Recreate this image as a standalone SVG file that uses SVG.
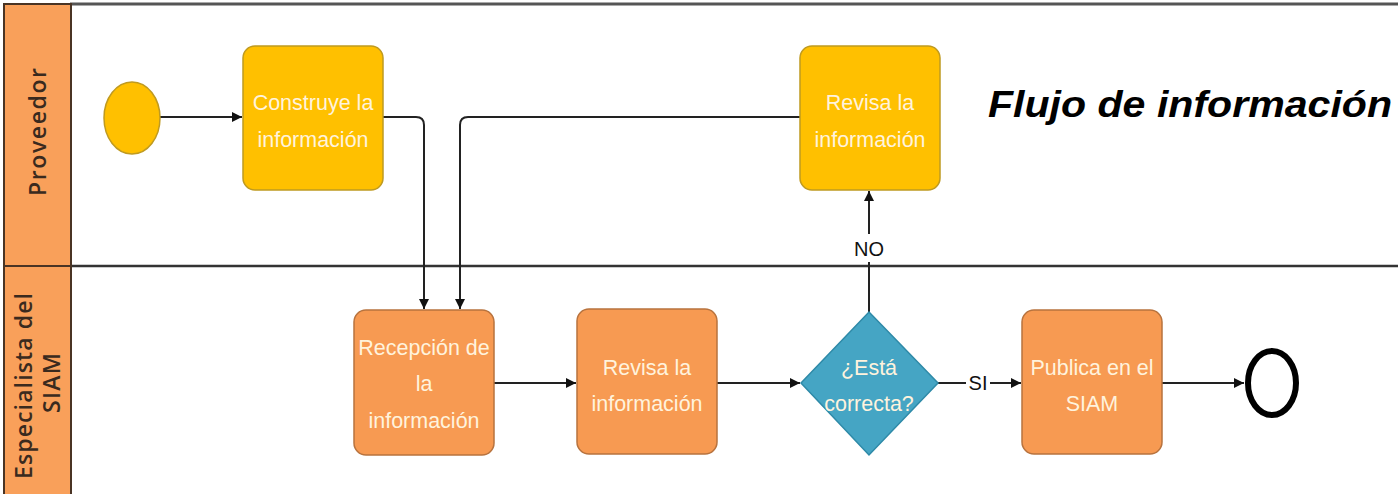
<svg xmlns="http://www.w3.org/2000/svg" width="1398" height="494" viewBox="0 0 1398 494">
<style>
.lane{fill:#F9A05A;stroke:#4A3424;stroke-width:2}
.lanetxt{font-family:"Open Sans","DejaVu Sans",sans-serif;font-size:23px;font-weight:600;fill:#3A2A1E;text-anchor:middle}
.y{fill:#FFC000;stroke:#BF9A20;stroke-width:1.5}
.o{fill:#F79A52;stroke:#B8733E;stroke-width:1.5}
.d{fill:#45A5C4;stroke:#2E8AA8;stroke-width:1.5}
.bt{font-family:"Liberation Sans",sans-serif;font-size:21.5px;fill:#FFF3DD;text-anchor:middle}
.c{fill:none;stroke:#222;stroke-width:2}
.lbl{font-family:"Liberation Sans",sans-serif;font-size:20px;fill:#111;text-anchor:middle}
</style>
<defs>
<marker id="ah" viewBox="0 0 10 10" refX="10" refY="5" markerWidth="5" markerHeight="5" orient="auto" markerUnits="strokeWidth">
<path d="M0,0 L10,5 L0,10 z" fill="#111"/>
</marker>
</defs>
<rect x="0" y="0" width="1398" height="494" fill="#fff"/>
<g id="pool">
<line x1="70" y1="4" x2="1398" y2="4" stroke="#555" stroke-width="3"/>
<line x1="4" y1="266" x2="1398" y2="266" stroke="#333" stroke-width="2.5"/>
<rect class="lane" x="4" y="4" width="67" height="262"/>
<rect class="lane" x="4" y="266" width="67" height="232"/>
<text class="lanetxt" transform="translate(46,132) rotate(-90)" textLength="128" lengthAdjust="spacing">Proveedor</text>
<text class="lanetxt" transform="translate(32,386) rotate(-90)" textLength="186" lengthAdjust="spacing">Especialista del</text>
<text class="lanetxt" transform="translate(60,383) rotate(-90)" textLength="60" lengthAdjust="spacing">SIAM</text>
</g>
<g id="connectors">
<line class="c" x1="160" y1="117" x2="242" y2="117" marker-end="url(#ah)"/>
<path class="c" d="M383,117 H416 Q424,117 424,125 V309" marker-end="url(#ah)"/>
<path class="c" d="M800,117 H468 Q460,117 460,125 V309" marker-end="url(#ah)"/>
<line class="c" x1="494" y1="383" x2="576" y2="383" marker-end="url(#ah)"/>
<line class="c" x1="717" y1="383" x2="800" y2="383" marker-end="url(#ah)"/>
<line class="c" x1="869" y1="312" x2="869" y2="191" marker-end="url(#ah)"/>
<rect x="851" y="234" width="36" height="28" fill="#fff"/>
<text class="lbl" x="869" y="256">NO</text>
<line class="c" x1="938" y1="383" x2="1021" y2="383" marker-end="url(#ah)"/>
<rect x="966" y="370" width="24" height="26" fill="#fff"/>
<text class="lbl" x="978" y="390">SI</text>
<line class="c" x1="1162" y1="383" x2="1244" y2="383" marker-end="url(#ah)"/>
</g>
<g id="start"><ellipse class="y" cx="132" cy="118" rx="28" ry="36"/></g>
<g id="construye">
<rect class="y" x="243" y="46" width="140" height="144" rx="12"/>
<text class="bt" x="313" y="110">Construye la</text>
<text class="bt" x="313" y="147">información</text>
</g>
<g id="revisa-proveedor">
<rect class="y" x="800" y="46" width="140" height="144" rx="12"/>
<text class="bt" x="870" y="110">Revisa la</text>
<text class="bt" x="870" y="147">información</text>
</g>
<g id="recepcion">
<rect class="o" x="354" y="310" width="140" height="145" rx="12"/>
<text class="bt" x="424" y="355">Recepción de</text>
<text class="bt" x="424" y="391">la</text>
<text class="bt" x="424" y="428">información</text>
</g>
<g id="revisa-especialista">
<rect class="o" x="577" y="309" width="140" height="145" rx="12"/>
<text class="bt" x="647" y="375">Revisa la</text>
<text class="bt" x="647" y="411">información</text>
</g>
<g id="decision">
<polygon class="d" points="869,312 938,383 869,455 801,383"/>
<text class="bt" x="869" y="375">¿Está</text>
<text class="bt" x="869" y="411">correcta?</text>
</g>
<g id="publica">
<rect class="o" x="1022" y="310" width="140" height="144" rx="12"/>
<text class="bt" x="1092" y="375">Publica en el</text>
<text class="bt" x="1092" y="411">SIAM</text>
</g>
<g id="end"><ellipse cx="1272" cy="383" rx="24" ry="32" fill="#fff" stroke="#000" stroke-width="6"/></g>
<text x="988" y="117" font-family="'Liberation Sans',sans-serif" font-size="37" font-weight="bold" font-style="italic" fill="#000" textLength="404" lengthAdjust="spacingAndGlyphs">Flujo de información</text>
</svg>
